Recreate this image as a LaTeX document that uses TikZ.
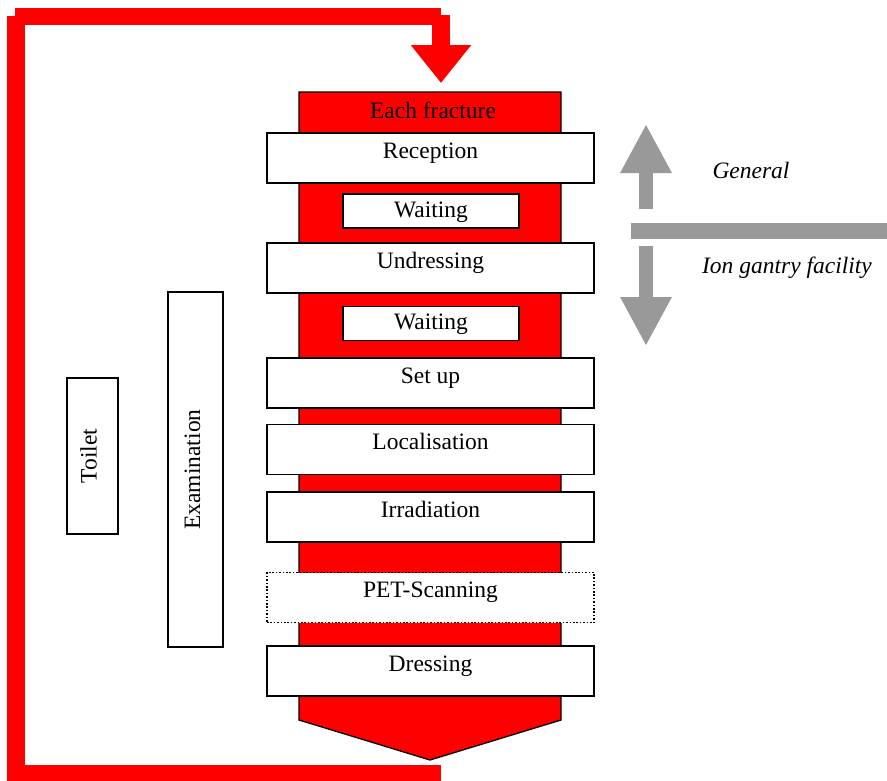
\documentclass[tikz,border=0pt]{standalone}
\usepackage{fontspec}
\setmainfont{Liberation Serif}
\usetikzlibrary{arrows.meta}
\definecolor{flowred}{RGB}{255,0,0}
\definecolor{zonegrey}{RGB}{153,153,153}
\begin{document}
\begin{tikzpicture}[x=1pt,y=-1pt,
  every node/.style={font=\fontsize{23.5pt}{28pt}\selectfont},
  widebox/.style={draw=black,line width=1.3pt,fill=white,minimum width=327pt,
    inner sep=0pt,text height=25pt,text depth=25pt},
  waitbox/.style={draw=black,line width=1.3pt,fill=white,minimum width=176pt,
    inner sep=0pt,text height=23pt,text depth=11pt},
  sidebox/.style={draw=black,line width=1.3pt,fill=white,inner sep=0pt},
  redloop/.style={draw=flowred,line width=17.5pt,line join=miter,
    -{Triangle[width=58pt,length=38pt]}},
  greyarrow/.style={draw=zonegrey,line width=14pt,
    -{Triangle[width=48pt,length=49pt]}},
  zonelabel/.style={font=\fontsize{23.5pt}{28pt}\selectfont\itshape}]
\useasboundingbox (0,0) rectangle (887,780);

% red loop connector
\coordinate (loopstart) at (441,774);
\coordinate (looptip) at (441,83);
\draw[redloop] (loopstart) -- (16,774) -- (16,16) (15,16.5) -- (441,16.5) (441,15) -- (looptip);

% central column
\path[draw=black,line width=1.3pt,fill=flowred]
  (299,92) -- (561,92) -- (561,720) -- (430,760) -- (299,720) -- cycle;
\node[anchor=base] (each) at (433,118) {Each fracture};

% steps
\node[widebox] (rec) at (430.5,158) {Reception};
\node[waitbox] (wait1) at (431,211) {Waiting};
\node[widebox] (undr) at (430.5,268) {Undressing};
\node[waitbox] (wait2) at (431,323.5) {Waiting};
\node[widebox] (setup) at (430.5,383) {Set up};
\node[widebox] (loc) at (430.5,449.5) {Localisation};
\node[widebox] (irr) at (430.5,517) {Irradiation};
\node[widebox,line width=1.6pt,dash pattern=on 1.6pt off 1.8pt] (pet) at (430.5,597.5) {PET-Scanning};
\node[widebox] (dress) at (430.5,671) {Dressing};

% side rooms
\node[sidebox,minimum width=51pt,minimum height=156pt] (toilet) at (92.5,456) {\rotatebox{90}{Toilet}\kern8pt};
\node[sidebox,minimum width=55pt,minimum height=355pt] (exam) at (195.5,469.5) {\rotatebox{90}{Examination}\kern6pt};

% zone divider and arrows
\node[fill=zonegrey,minimum width=256pt,minimum height=16pt,inner sep=0pt] (divider) at (759,231) {};
\coordinate (upstart) at (646,209);
\coordinate (uptip) at (646,124);
\coordinate (downstart) at (646,246);
\coordinate (downtip) at (646,346);
\draw[greyarrow] (upstart) -- (uptip);
\draw[greyarrow] (downstart) -- (downtip);
\node[zonelabel] (general) at (751,170) {General};
\node[zonelabel] (ion) at (787,268) {Ion gantry facility};
\end{tikzpicture}
\end{document}
